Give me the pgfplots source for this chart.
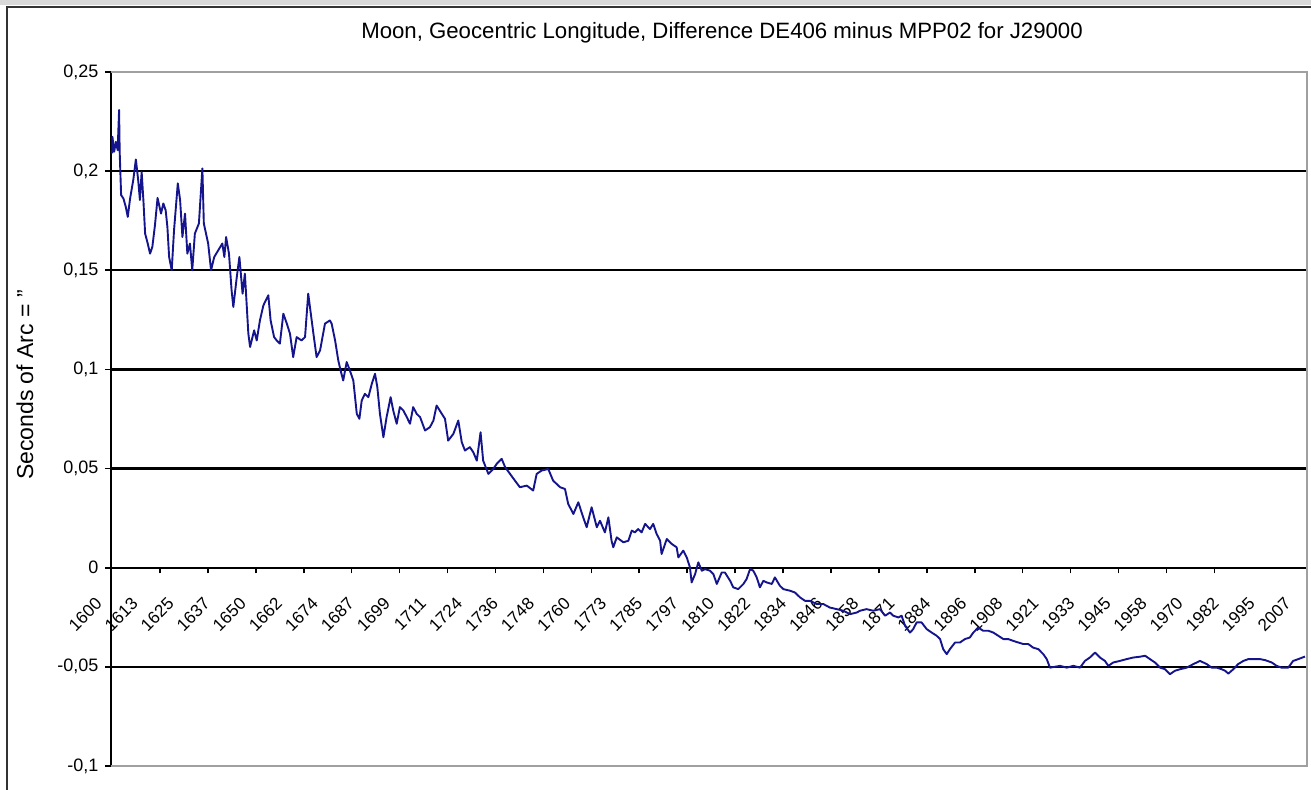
\documentclass[border=0pt]{standalone}
\usepackage{fontspec}
\setmainfont{Liberation Sans}
\usepackage{pgfplots}
\pgfplotsset{compat=1.18}
\usetikzlibrary{calc}
\definecolor{moonblue}{RGB}{20,20,140}
\definecolor{plotframe}{RGB}{160,160,160}

\begin{document}
\begin{tikzpicture}
\path[use as bounding box] (0,0) rectangle (655.5pt,395pt);
\fill[black!15] (0,395pt) rectangle (655.5pt,392.5pt);
\draw[line width=1.3pt, black!80] (3.5pt,-10pt) -- (3.5pt,391.5pt) -- (670pt,391.5pt);
\begin{axis}[
  at={(55.5pt,12pt)}, anchor=south west,
  scale only axis, width=598pt, height=347pt,
  xmin=1600, xmax=2013.6, ymin=-0.1, ymax=0.25,
  axis x line*=middle, axis y line*=left,
  hide obscured x ticks=false,
  clip=false,
  axis line style={black, line width=1pt},
  tick align=outside, major tick length=2.8pt,
  tick style={black, line width=0.8pt},
  xtick={1600,1612.46,...,2012},
  xticklabels={1600,1613,1625,1637,1650,1662,1674,1687,1699,1711,1724,1736,1748,1760,1773,1785,1797,1810,1822,1834,1846,1858,1871,1884,1896,1908,1921,1933,1945,1958,1970,1982,1995,2007},
  xtick style={draw=none},
  x tick label style={anchor=east, inner sep=0pt, xshift=-6pt, yshift=-13.6pt, rotate=45, font=\fontsize{8.6}{9}\selectfont},
  extra x ticks={1616.925,1633.5,...,1982},
  extra x tick labels={},
  extra x tick style={xtick style={draw=black, line width=0.8pt}, tick align=outside},
  ytick={-0.1,-0.05,0,0.05,0.1,0.15,0.2,0.25},
  yticklabels={{-0,1},{-0,05},{0},{0,05},{0,1},{0,15},{0,2},{0,25}},
  minor ytick={-0.05,0,0.05,0.1,0.15,0.2},
  yminorgrids=true, minor tick length=0pt,
  minor grid style={black, line width=1.1pt},
  y tick label style={font=\fontsize{9}{10}\selectfont},
  title={Moon, Geocentric Longitude, Difference DE406 minus MPP02 for J29000},
  title style={at={(axis description cs:0.5109,1.0389)}, anchor=center, font=\fontsize{11.1}{13}\selectfont},
  ylabel={Seconds of Arc = "},
  ylabel style={at={(axis description cs:-0.0719,0.549)}, anchor=center, font=\fontsize{11.5}{13}\selectfont},
]
\draw[plotframe, line width=0.6pt] (rel axis cs:0,1) -- (rel axis cs:1,1) -- (rel axis cs:1,0) -- (rel axis cs:0,0);
\addplot[color=moonblue, line width=0.95pt, line join=round, mark=none] table {
1600.4 0.2089
1600.5 0.2173
1601.1 0.2098
1601.7 0.2148
1602.3 0.2106
1602.8 0.2308
1603.0 0.2098
1603.5 0.1879
1604.3 0.1862
1605.1 0.1820
1605.8 0.1769
1606.6 0.1862
1607.7 0.1955
1608.6 0.2059
1609.4 0.1955
1610.0 0.1854
1610.6 0.1996
1611.2 0.1854
1611.8 0.1685
1612.7 0.1635
1613.5 0.1584
1614.3 0.1618
1615.2 0.1727
1616.1 0.1865
1617.3 0.1786
1618.1 0.1837
1618.9 0.1803
1619.5 0.1719
1620.1 0.1567
1621.0 0.1500
1621.8 0.1702
1623.1 0.1938
1623.9 0.1854
1624.7 0.1668
1625.6 0.1786
1626.4 0.1584
1627.3 0.1635
1628.1 0.1500
1629.0 0.1685
1630.4 0.1736
1631.6 0.2014
1632.1 0.1736
1633.6 0.1635
1634.6 0.1500
1635.7 0.1567
1637.1 0.1601
1638.5 0.1635
1639.2 0.1567
1639.8 0.1668
1640.8 0.1584
1641.7 0.1399
1642.3 0.1315
1643.5 0.1466
1644.4 0.1567
1645.5 0.1382
1646.3 0.1483
1647.5 0.1180
1648.1 0.1113
1649.5 0.1197
1650.4 0.1146
1651.5 0.1247
1652.7 0.1323
1654.4 0.1374
1655.2 0.1247
1656.4 0.1163
1657.3 0.1146
1658.4 0.1130
1659.6 0.1281
1660.8 0.1231
1661.9 0.1180
1663.0 0.1062
1664.2 0.1163
1665.9 0.1146
1667.1 0.1163
1668.2 0.1382
1669.1 0.1281
1670.0 0.1180
1671.1 0.1062
1672.3 0.1096
1674.0 0.1231
1675.7 0.1247
1676.3 0.1231
1677.5 0.1146
1678.6 0.1045
1679.4 0.0995
1680.3 0.0944
1681.5 0.1037
1682.6 0.0995
1683.8 0.0944
1685.0 0.0776
1685.9 0.0751
1686.7 0.0843
1687.8 0.0877
1689.0 0.0860
1690.2 0.0928
1691.3 0.0978
1692.1 0.0911
1693.0 0.0776
1694.2 0.0658
1695.3 0.0759
1696.7 0.0860
1697.6 0.0793
1698.8 0.0726
1699.9 0.0810
1701.1 0.0793
1702.3 0.0759
1703.4 0.0726
1704.5 0.0810
1705.7 0.0776
1706.9 0.0759
1708.6 0.0692
1710.3 0.0709
1711.5 0.0742
1712.6 0.0818
1714.4 0.0776
1715.5 0.0751
1716.6 0.0641
1718.4 0.0675
1720.1 0.0742
1721.3 0.0633
1722.4 0.0591
1724.1 0.0608
1725.3 0.0582
1726.5 0.0540
1727.8 0.0683
1728.7 0.0540
1730.5 0.0473
1732.2 0.0498
1733.4 0.0524
1735.1 0.0549
1736.3 0.0507
1738.0 0.0473
1739.7 0.0439
1741.4 0.0406
1743.8 0.0414
1746.0 0.0389
1747.2 0.0473
1748.9 0.0490
1751.2 0.0498
1752.9 0.0439
1755.3 0.0406
1757.0 0.0397
1758.1 0.0322
1759.9 0.0271
1761.6 0.0330
1763.3 0.0254
1764.5 0.0204
1766.2 0.0305
1768.0 0.0204
1769.1 0.0237
1770.8 0.0178
1772.0 0.0254
1773.1 0.0136
1773.7 0.0103
1774.9 0.0153
1777.2 0.0128
1778.9 0.0136
1780.1 0.0187
1781.2 0.0178
1782.3 0.0195
1783.5 0.0178
1784.7 0.0221
1786.4 0.0195
1787.5 0.0221
1788.7 0.0170
1789.9 0.0136
1790.4 0.0069
1792.2 0.0145
1793.9 0.0120
1795.6 0.0103
1796.2 0.0052
1797.9 0.0086
1799.1 0.0052
1800.2 0.0002
1800.8 -0.0074
1802.0 -0.0032
1803.1 0.0027
1804.3 -0.0015
1805.4 -0.0007
1807.1 -0.0015
1808.3 -0.0032
1809.5 -0.0082
1811.2 -0.0024
1812.3 -0.0024
1814.1 -0.0066
1815.2 -0.0099
1816.9 -0.0108
1818.7 -0.0082
1819.8 -0.0057
1821.0 -0.0007
1822.1 -0.0015
1823.3 -0.0049
1824.4 -0.0099
1825.6 -0.0066
1826.7 -0.0074
1828.5 -0.0082
1829.6 -0.0049
1831.3 -0.0091
1832.5 -0.0108
1834.8 -0.0116
1836.5 -0.0125
1838.3 -0.0150
1840.0 -0.0167
1841.7 -0.0167
1844.0 -0.0183
1846.3 -0.0183
1848.6 -0.0201
1851.0 -0.0209
1853.2 -0.0217
1855.6 -0.0234
1857.9 -0.0226
1859.0 -0.0217
1861.3 -0.0209
1863.6 -0.0217
1865.9 -0.0209
1867.7 -0.0242
1869.4 -0.0226
1870.5 -0.0242
1872.3 -0.0251
1873.4 -0.0242
1874.6 -0.0293
1876.3 -0.0327
1877.4 -0.0310
1878.6 -0.0276
1880.3 -0.0276
1882.1 -0.0310
1883.8 -0.0327
1885.5 -0.0343
1886.7 -0.0360
1887.8 -0.0411
1889.0 -0.0436
1890.1 -0.0411
1891.9 -0.0377
1893.6 -0.0377
1895.3 -0.0360
1897.0 -0.0352
1898.2 -0.0327
1899.9 -0.0302
1901.6 -0.0318
1903.4 -0.0318
1905.1 -0.0327
1906.8 -0.0343
1908.6 -0.0360
1910.3 -0.0360
1912.0 -0.0369
1913.7 -0.0377
1915.5 -0.0385
1917.2 -0.0385
1918.9 -0.0403
1920.7 -0.0411
1922.4 -0.0436
1923.6 -0.0461
1924.7 -0.0504
1928.2 -0.0495
1930.5 -0.0504
1932.8 -0.0495
1935.1 -0.0504
1936.8 -0.0470
1938.5 -0.0453
1940.3 -0.0428
1942.0 -0.0453
1943.7 -0.0470
1944.9 -0.0495
1946.6 -0.0478
1948.9 -0.0470
1951.2 -0.0461
1953.5 -0.0453
1955.8 -0.0449
1957.6 -0.0444
1959.3 -0.0461
1961.0 -0.0478
1962.8 -0.0504
1964.5 -0.0512
1966.2 -0.0537
1967.9 -0.0520
1969.7 -0.0512
1972.0 -0.0504
1974.3 -0.0486
1976.6 -0.0470
1978.9 -0.0486
1980.6 -0.0504
1982.4 -0.0504
1984.1 -0.0512
1985.3 -0.0520
1986.4 -0.0534
1988.1 -0.0512
1989.8 -0.0486
1991.6 -0.0470
1993.3 -0.0461
1995.6 -0.0461
1997.4 -0.0461
1999.1 -0.0466
2001.4 -0.0478
2003.1 -0.0495
2004.8 -0.0504
2007.1 -0.0504
2008.8 -0.0470
2010.6 -0.0461
2012.9 -0.0448
};
\end{axis}
\end{tikzpicture}
\end{document}
